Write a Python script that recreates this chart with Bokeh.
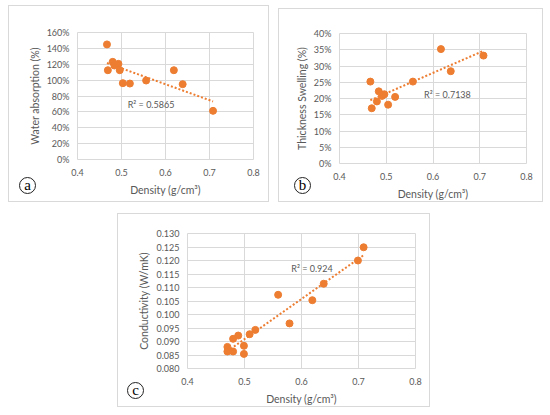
import numpy as np
from bokeh.plotting import figure
from bokeh.layouts import row, column
from bokeh.models import Spacer, FixedTicker, NumeralTickFormatter, Label, Range1d, Div
from bokeh.embed import file_html
from bokeh.resources import INLINE

# ---- data ----
density_a = [0.467, 0.469, 0.480, 0.484, 0.493, 0.496, 0.503, 0.519, 0.556, 0.619, 0.639, 0.708]
water_abs = [1.45, 1.125, 1.23, 1.184, 1.205, 1.125, 0.962, 0.957, 0.995, 1.125, 0.949, 0.613]

density_b = [0.466, 0.469, 0.480, 0.484, 0.491, 0.496, 0.504, 0.519, 0.557, 0.617, 0.638, 0.708]
thick_sw = [0.252, 0.170, 0.191, 0.222, 0.208, 0.213, 0.181, 0.205, 0.252, 0.352, 0.284, 0.332]

density_c = [0.47, 0.47, 0.48, 0.48, 0.489, 0.499, 0.499, 0.509, 0.519, 0.559, 0.579, 0.619, 0.639, 0.699, 0.709]
conduct = [0.0880, 0.0863, 0.0910, 0.0863, 0.0922, 0.0884, 0.0854, 0.0927, 0.0943, 0.1073, 0.0967, 0.1053, 0.1114, 0.1200, 0.1249]

r2_a = "R\u00b2 = 0.5865"
r2_b = "R\u00b2 = 0.7138"
r2_c = "R\u00b2 = 0.924"

panel_letters = ["a", "b", "c"]

x_ticks = [0.4, 0.5, 0.6, 0.7, 0.8]
ticks_a = [0, 0.2, 0.4, 0.6, 0.8, 1.0, 1.2, 1.4, 1.6]
ticks_b = [0, 0.05, 0.10, 0.15, 0.20, 0.25, 0.30, 0.35, 0.40]
ticks_c = [0.080, 0.085, 0.090, 0.095, 0.100, 0.105, 0.110, 0.115, 0.120, 0.125, 0.130]

ORANGE = "#ED7D31"
GRAY = "#595959"
GRID = "#d9d9d9"
FONT = "Lato"


def panel(x, y, yticks, yfmt, ylabel, r2, r2pos, w, h, bl, br, bt, bb):
    x0, x1 = x_ticks[0], x_ticks[-1]
    y0, y1 = yticks[0], yticks[-1]
    p = figure(width=w, height=h, output_backend="svg", toolbar_location=None,
               x_range=Range1d(x0, x1), y_range=Range1d(y0, y1),
               min_border_left=bl, min_border_right=br, min_border_top=bt, min_border_bottom=bb)
    p.styles = {"border": "1px solid #d9d9d9", "box-sizing": "border-box"}
    p.outline_line_color = GRID
    for g in (p.xgrid, p.ygrid):
        g.grid_line_color = GRID
    p.xaxis.ticker = FixedTicker(ticks=x_ticks)
    p.xaxis.formatter = NumeralTickFormatter(format="0.0")
    p.yaxis.ticker = FixedTicker(ticks=yticks)
    p.yaxis.formatter = NumeralTickFormatter(format=yfmt)
    p.xgrid.ticker = FixedTicker(ticks=x_ticks)
    p.ygrid.ticker = FixedTicker(ticks=yticks)
    for ax in (p.xaxis, p.yaxis):
        ax.axis_line_color = None
        ax.major_tick_line_color = None
        ax.minor_tick_line_color = None
        ax.major_tick_out = 0
        ax.major_tick_in = 0
        ax.minor_tick_out = 0
        ax.minor_tick_in = 0
        ax.major_label_text_color = GRAY
        ax.major_label_text_font = FONT
        ax.major_label_text_font_size = "9px"
        ax.axis_label_text_color = GRAY
        ax.axis_label_text_font = FONT
        ax.axis_label_text_font_size = "10.5px"
        ax.axis_label_text_font_style = "normal"
    p.xaxis.axis_label = "Density (g/cm\u00b3)"
    p.yaxis.axis_label = ylabel
    p.xaxis.major_label_standoff = 9
    p.yaxis.major_label_standoff = 8
    p.xaxis.axis_label_standoff = 5
    p.yaxis.axis_label_standoff = 3

    # trendline from linear fit of the data
    xs = np.array(x)
    ys = np.array(y)
    k, b0 = np.polyfit(xs, ys, 1)
    xt = [xs.min(), xs.max()]
    yt = [k * xt[0] + b0, k * xt[1] + b0]
    p.line(xt, yt, line_color=ORANGE, line_width=2, line_dash="2 2")
    p.scatter(x, y, size=7, fill_color=ORANGE, line_color=ORANGE)

    p.add_layout(Label(x=r2pos[0], y=r2pos[1], text=r2, text_font=FONT,
                       text_font_size="9px", text_color=GRAY, text_baseline="middle"))
    return p


def letter_div(items):
    """Circled panel letters, drawn as HTML overlapping the panel above."""
    parts = []
    for t, left, top in items:
        parts.append(
            f'<div style="position:absolute;left:{left}px;top:{top}px;width:17px;height:17px;'
            'border:1px solid #222;border-radius:50%;background:#fff;box-sizing:border-box;'
            "font-family:'Liberation Serif',serif;font-size:15px;line-height:14px;"
            f'text-align:center;color:#000;z-index:10;">{t}</div>')
    html = '<div style="position:relative;width:0;height:0;">' + "".join(parts) + "</div>"
    return Div(text=html, width=540, height=1, margin=0,
               styles={"overflow": "visible", "z-index": "10"})


pa = panel(density_a, water_abs, ticks_a, "0%", "Water absorption (%)", r2_a, (0.514, 0.69),
           261, 197, 68, 17, 26, 44)
pb = panel(density_b, thick_sw, ticks_b, "0%", "Thickness Swelling (%)", r2_b, (0.581, 0.213),
           265, 194, 60, 18, 24, 40)
pc = panel(density_c, conduct, ticks_c, "0.000", "Conductivity (W/mK)", r2_c, (0.582, 0.117),
           313, 194, 69, 16, 19, 40)

layout = column(
    Spacer(height=5),
    row(Spacer(width=8), pa, Spacer(width=9), column(Spacer(height=3), pb)),
    letter_div([(panel_letters[0], 19, -37), (panel_letters[1], 294, -37)]),
    Spacer(height=10),
    row(Spacer(width=117), pc),
    letter_div([(panel_letters[2], 127, -37)]),
)

open("out.html", "w").write(file_html(layout, INLINE))
